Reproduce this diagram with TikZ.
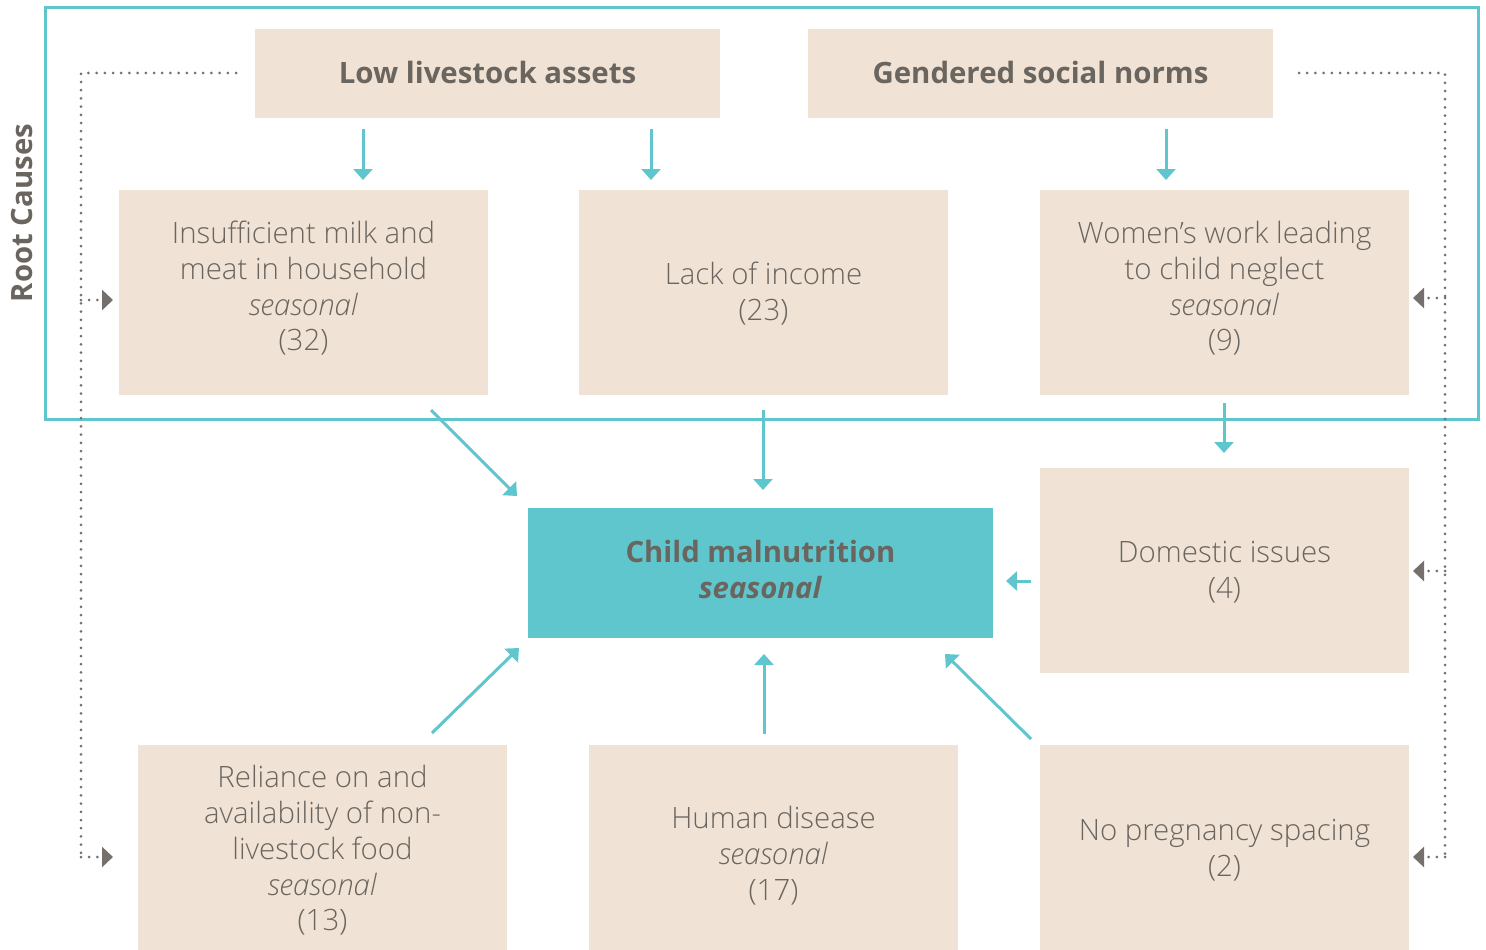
\documentclass[tikz,border=0pt]{standalone}
\usepackage{fontspec}
\setmainfont{Open Sans}[UprightFont=* Light, ItalicFont=* Light Italic, BoldFont=* Bold, BoldItalicFont=* Bold Italic]
\usetikzlibrary{arrows.meta}
\definecolor{beige}{HTML}{F0E3D5}
\definecolor{teal}{HTML}{5EC6CC}
\definecolor{ink}{HTML}{6A655F}
\definecolor{dotgray}{HTML}{75706B}
\begin{document}
\begin{tikzpicture}[x=1pt,y=-1pt,
  box/.style={fill=beige, draw=none, inner sep=0pt},
  txt/.style={text=ink, align=center, inner sep=0pt,
    font=\fontsize{29.4}{35.7}\selectfont},
  cause/.style={box, minimum width=369pt, minimum height=205pt},
  root/.style={box, minimum width=465pt, minimum height=89pt},
  boldtxt/.style={txt, font=\fontsize{29.4}{35.7}\selectfont\bfseries},
  tarrow/.style={draw=teal, line width=3pt,
    -{Triangle[width=19pt,length=11pt]}},
  dotline/.style={draw=dotgray, line width=3pt, line cap=round,
    dash pattern=on 0pt off 8.2pt},
  garrow/.style={dotline, -{Triangle[width=20pt,length=11pt,line cap=butt]}},
]
\useasboundingbox (0,0) rectangle (1486,950);

% frame around the root causes
\draw[teal, line width=3pt] (45,8) rectangle (1478,419);
\node[rotate=90, text=ink, font=\fontsize{29.3}{32}\selectfont\bfseries] (rclabel) at (22,213) {Root Causes};

% root causes
\node[root] (low) at (487.5,73.5) {};
\node[boldtxt] (lowt) at ([yshift=1pt]low.center) {Low livestock assets};
\node[root] (gender) at (1040.5,73.5) {};
\node[boldtxt] (gendert) at ([yshift=1pt]gender.center) {Gendered social norms};

% intermediate causes
\node[cause] (milk) at (303.5,292.5) {};
\node[txt] (milkt) at ([yshift=4pt]milk.center) {Insufficient milk and\\meat in household\\\textit{seasonal}\\(32)};
\node[cause] (income) at (763.5,292.5) {};
\node[txt] (incomet) at ([yshift=-1pt]income.center) {Lack of income\\(23)};
\node[cause] (women) at (1224.5,292.5) {};
\node[txt] (woment) at ([yshift=4pt]women.center) {Women’s work leading\\to child neglect\\\textit{seasonal}\\(9)};
\node[cause] (domestic) at (1224.5,570.5) {};
\node[txt] (domestict) at ([yshift=-2pt]domestic.center) {Domestic issues\\(4)};
\node[cause] (reliance) at (322.5,847.5) {};
\node[txt] (reliancet) at ([yshift=-3pt]reliance.center) {Reliance on and\\availability of non-\\livestock food\\\textit{seasonal}\\(13)};
\node[cause] (disease) at (773.5,847.5) {};
\node[txt] (diseaset) at ([yshift=-8pt]disease.center) {Human disease\\\textit{seasonal}\\(17)};
\node[cause] (spacing) at (1224.5,847.5) {};
\node[txt] (spacingt) at ([yshift=-2.5pt]spacing.center) {No pregnancy spacing\\(2)};

% outcome
\node[fill=teal, minimum width=465pt, minimum height=130pt, inner sep=0pt] (child) at (760.5,573) {};
\node[txt, font=\fontsize{29.3}{36}\selectfont\bfseries] (childt) at ([yshift=3pt]child.center)
  {Child malnutrition\\\textit{seasonal}};

% arrow end points
\coordinate (a1s) at (363,129);   \coordinate (a1e) at (363,180);
\coordinate (a2s) at (651,129);   \coordinate (a2e) at (651,180);
\coordinate (a3s) at (1166,129);  \coordinate (a3e) at (1166,180);
\coordinate (a4s) at (431,410);   \coordinate (a4e) at (517,496);
\coordinate (a5s) at (763,410);   \coordinate (a5e) at (763,490);
\coordinate (a6s) at (1224,403);  \coordinate (a6e) at (1224,453);
\coordinate (a7s) at (1031,581);  \coordinate (a7e) at (1006,581);
\coordinate (a8s) at (432,733);   \coordinate (a8e) at (519,648);
\coordinate (a9s) at (764,734);   \coordinate (a9e) at (764,654);
\coordinate (a10s) at (1031,739); \coordinate (a10e) at (945,654);

\draw[tarrow] (a1s) -- (a1e);
\draw[tarrow] (a2s) -- (a2e);
\draw[tarrow] (a3s) -- (a3e);
\draw[tarrow] (a4s) -- (a4e);
\draw[tarrow] (a5s) -- (a5e);
\draw[tarrow] (a6s) -- (a6e);
\draw[tarrow] (a7s) -- (a7e);
\draw[tarrow] (a8s) -- (a8e);
\draw[tarrow] (a9s) -- (a9e);
\draw[tarrow] (a10s) -- (a10e);

% dotted feedback links of the root causes
\coordinate (lt) at (236,73);  \coordinate (lc) at (81,73);
\coordinate (lb) at (81,857);
\coordinate (l1) at (81,300);  \coordinate (l1e) at (113,300);
\coordinate (l2e) at (113,857);
\coordinate (rt) at (1299,73); \coordinate (rc) at (1445,73);
\coordinate (rb) at (1445,857);
\coordinate (r1) at (1445,298); \coordinate (r1e) at (1413,298);
\coordinate (r2) at (1445,571); \coordinate (r2e) at (1413,571);
\coordinate (r3e) at (1413,857);

\draw[dotline] (lt) -- (lc) -- (lb);
\draw[garrow] (l1) -- (l1e);
\draw[garrow] (lb) -- (l2e);
\draw[dotline] (rt) -- (rc) -- (rb);
\draw[garrow] (r1) -- (r1e);
\draw[garrow] (r2) -- (r2e);
\draw[garrow] (rb) -- (r3e);
\end{tikzpicture}
\end{document}
